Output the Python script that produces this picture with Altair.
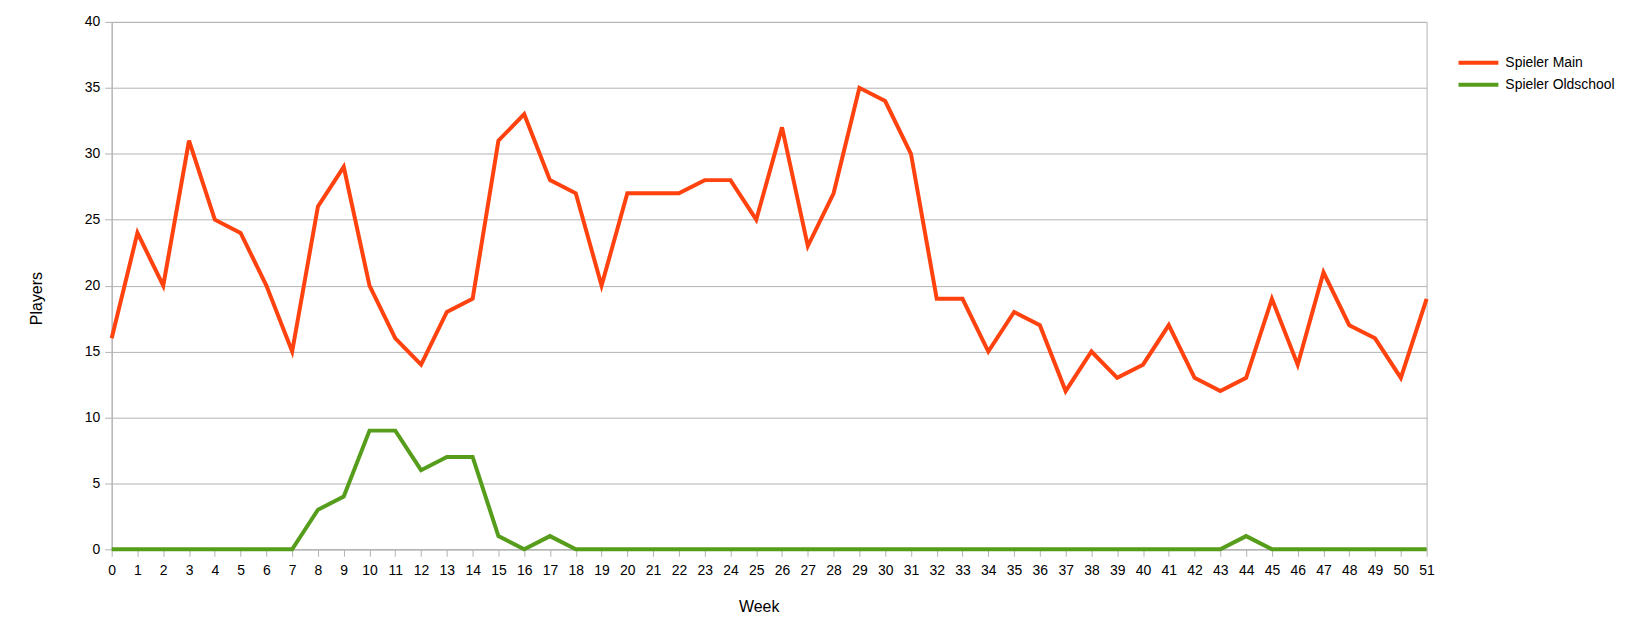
import altair as alt
import pandas as pd

weeks = list(range(52))
main = [16, 24, 20, 31, 25, 24, 20, 15, 26, 29, 20, 16, 14, 18, 19, 31, 33, 28, 27, 20,
        27, 27, 27, 28, 28, 25, 32, 23, 27, 35, 34, 30, 19, 19, 15, 18, 17, 12, 15, 13,
        14, 17, 13, 12, 13, 19, 14, 21, 17, 16, 13, 19]
oldschool = [0, 0, 0, 0, 0, 0, 0, 0, 3, 4, 9, 9, 6, 7, 7, 1, 0, 1, 0, 0,
             0, 0, 0, 0, 0, 0, 0, 0, 0, 0, 0, 0, 0, 0, 0, 0, 0, 0, 0, 0,
             0, 0, 0, 0, 1, 0, 0, 0, 0, 0, 0, 0]
series_names = ["Spieler Main", "Spieler Oldschool"]
series_colors = ["#ff420e", "#579d1c"]
y_ticks = [0, 5, 10, 15, 20, 25, 30, 35, 40]

rows = []
for name, vals in zip(series_names, [main, oldschool]):
    for w, v in zip(weeks, vals):
        rows.append({"Week": w, "Players": v, "Series": name})
df = pd.DataFrame(rows)

FONT = "Liberation Sans"
GRID = "#b3b3b3"

chart = alt.Chart(df).mark_line(strokeWidth=4, strokeJoin="miter", strokeCap="butt").encode(
    x=alt.X("Week:Q",
            scale=alt.Scale(domain=[0, 51], nice=False, zero=False),
            axis=alt.Axis(values=weeks, format="d", grid=False, title="Week",
                          labelFlush=False, labelOverlap=False,
                          tickSize=7, tickColor=GRID, domainColor=GRID,
                          labelPadding=7, labelFontSize=14,
                          titleX=649, titleY=57, titleBaseline="middle",
                          titleAlign="center", titleFontSize=16,
                          titleFontWeight="normal")),
    y=alt.Y("Players:Q",
            scale=alt.Scale(domain=[0, 40], nice=False),
            axis=alt.Axis(values=y_ticks, grid=True, gridColor=GRID, title="Players",
                          tickSize=7, tickColor=GRID, domainColor=GRID,
                          labelPadding=5, labelFontSize=14,
                          titleAngle=-90, titleX=-75, titleY=277,
                          titleBaseline="middle", titleAlign="center",
                          titleFontSize=16, titleFontWeight="normal")),
    color=alt.Color("Series:N",
                    scale=alt.Scale(domain=series_names, range=series_colors),
                    legend=alt.Legend(title=None, orient="none", legendX=1359, legendY=29,
                                      symbolType="M-2,0H2", symbolSize=400,
                                      symbolStrokeWidth=4, labelOffset=15,
                                      rowPadding=2, padding=0,
                                      labelFontSize=14, labelFont=FONT)),
).properties(
    width=1319, height=529,
    autosize=alt.AutoSizeParams(type="none"),
    padding={"left": 104, "top": 13, "right": 200, "bottom": 80},
).configure(
    font=FONT,
).configure_axis(
    labelFont=FONT, titleFont=FONT, labelColor="#000000", titleColor="#000000",
    gridWidth=1, domainWidth=1, tickWidth=1,
).configure_view(
    stroke=GRID, strokeWidth=1,
)

chart.save("out.html", embed_options={"renderer": "svg", "actions": False})
